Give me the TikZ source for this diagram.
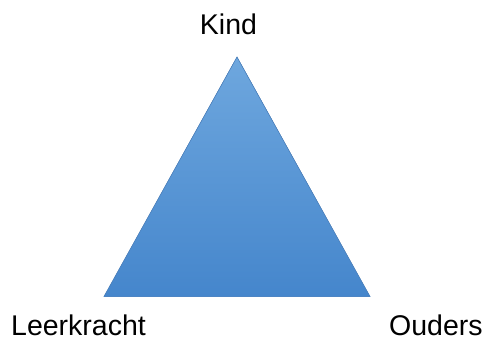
\documentclass[tikz,border=0pt]{standalone}
\usepackage{fontspec}
\setmainfont{Liberation Sans}
\usepackage{tikz}
\usetikzlibrary{positioning}
\definecolor{tritop}{HTML}{6EA7DE}
\definecolor{tribottom}{HTML}{4586CC}
\definecolor{triedge}{HTML}{4D85C4}

\begin{document}
\begin{tikzpicture}[x=1pt, y=1pt,
  tri/.style={draw=triedge, line width=0.6pt, top color=tritop, bottom color=tribottom},
  lbl/.style={inner sep=0pt, anchor=base, font=\fontsize{28.5}{34}\selectfont}]
\useasboundingbox (0,0) rectangle (486,338);
\coordinate (top) at (237,281);
\coordinate (left) at (104,41.5);
\coordinate (right) at (370,41.5);
\fill[tri] (top) -- (left) -- (right) -- cycle;
\node[lbl] (kind) at (228.5,303) {Kind};
\node[lbl, anchor=base west] (leerkracht) at (11,3) {Leerkracht};
\node[lbl, anchor=base west] (ouders) at (389,3) {Ouders};
\end{tikzpicture}
\end{document}
